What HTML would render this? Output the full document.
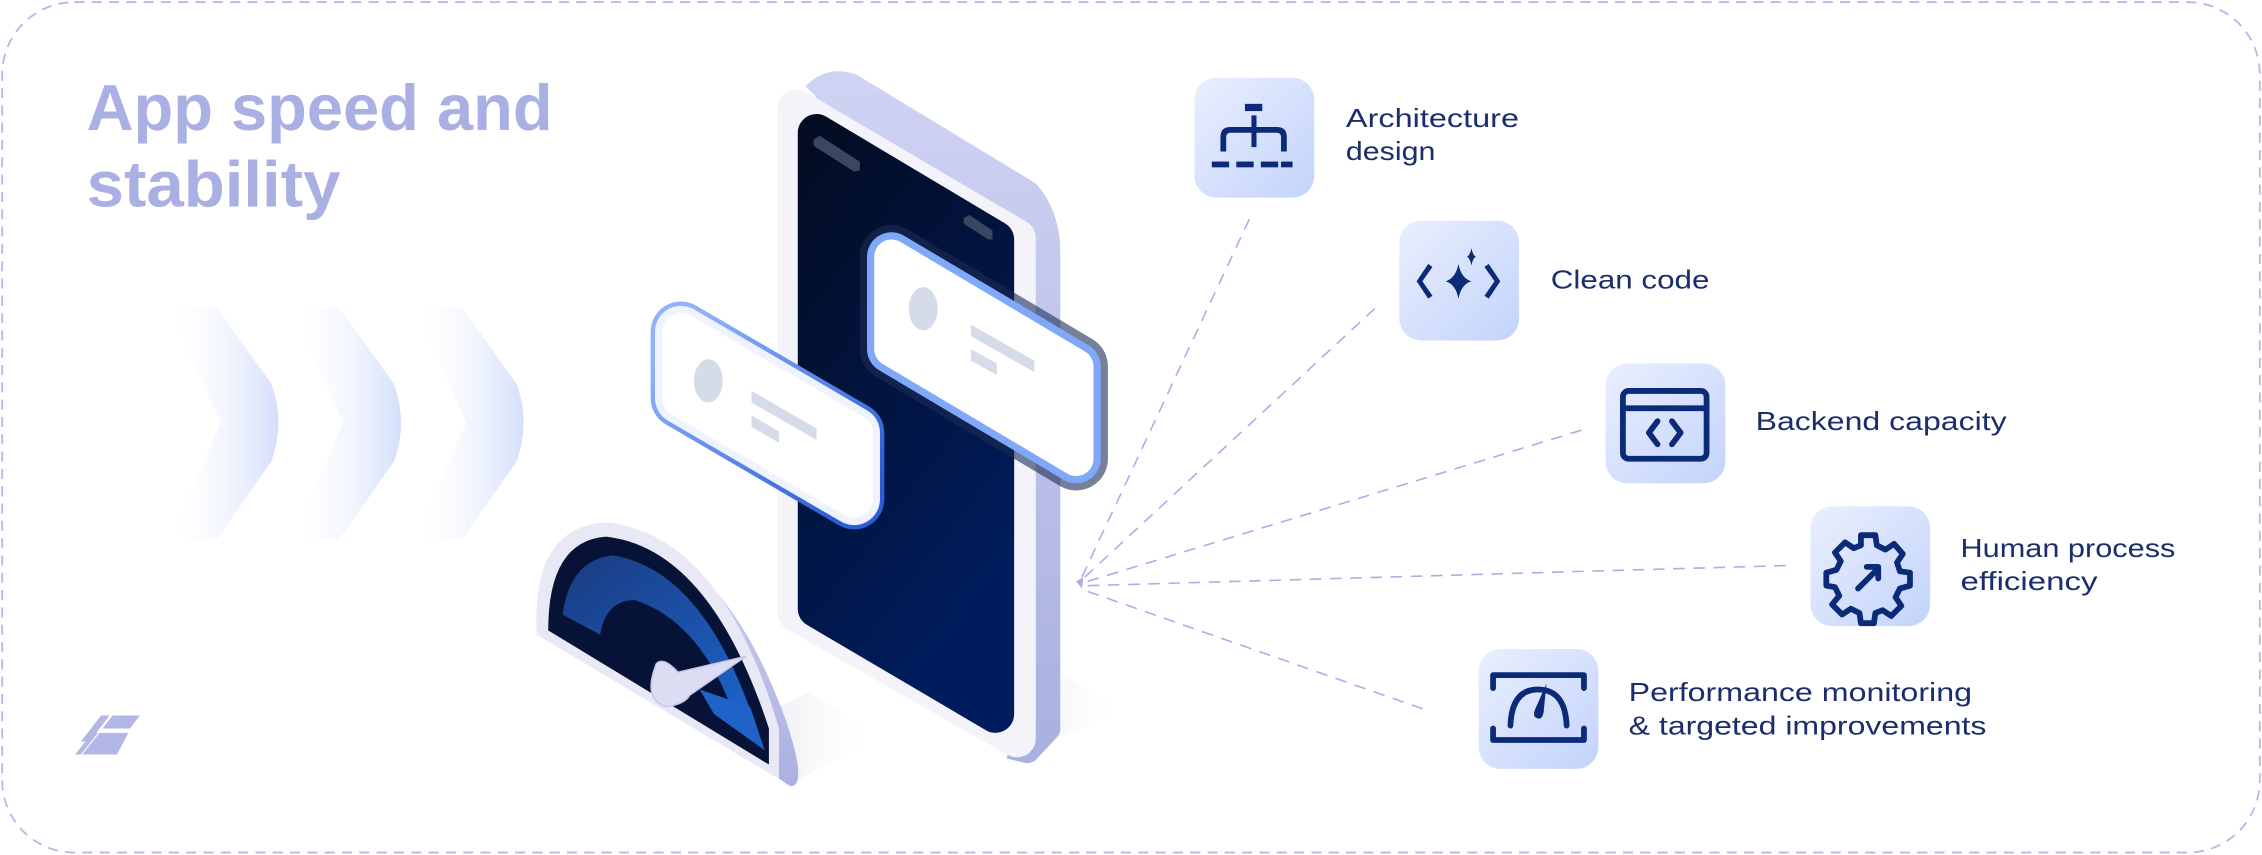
<!DOCTYPE html>
<html><head><meta charset="utf-8"><style>
html,body{margin:0;padding:0;background:#fff;}
svg{display:block;}
text{font-family:"Liberation Sans",sans-serif;}
</style></head><body>
<svg width="2262" height="855" viewBox="0 0 1568 592.7" xmlns="http://www.w3.org/2000/svg">
<defs>
<linearGradient id="chev" x1="0" y1="0" x2="1" y2="0"><stop offset="0" stop-color="#ffffff" stop-opacity="0"/><stop offset="0.35" stop-color="#f3f6fe" stop-opacity="0.5"/><stop offset="1" stop-color="#d3dffb"/></linearGradient>
<linearGradient id="box" x1="0" y1="0" x2="1" y2="1"><stop offset="0" stop-color="#e9effd"/><stop offset="1" stop-color="#c3d3fb"/></linearGradient>
<linearGradient id="scr" x1="0" y1="0" x2="0.4" y2="1"><stop offset="0" stop-color="#030c22"/><stop offset="1" stop-color="#001c5c"/></linearGradient>
<linearGradient id="side" x1="0" y1="0" x2="0" y2="1"><stop offset="0" stop-color="#cfd2f2"/><stop offset="1" stop-color="#aab0e0"/></linearGradient>
<linearGradient id="shadow" x1="0" y1="0" x2="1" y2="0"><stop offset="0" stop-color="#dfe1ea"/><stop offset="1" stop-color="#ffffff" stop-opacity="0"/></linearGradient>
<linearGradient id="gblue" x1="0" y1="0" x2="1" y2="1"><stop offset="0" stop-color="#1a3b80"/><stop offset="1" stop-color="#1d62c9"/></linearGradient>
<linearGradient id="cardb" x1="0" y1="0" x2="1" y2="1"><stop offset="0" stop-color="#8fb3fb"/><stop offset="1" stop-color="#2c5fd6"/></linearGradient>
</defs>
<rect x="1.5" y="1.5" width="1565" height="589.5" rx="50" fill="none" stroke="#b2b6e6" stroke-width="1.2" stroke-dasharray="7 5"/>
<text x="60" y="90" font-size="45" font-weight="bold" fill="#aab0e3" textLength="323" lengthAdjust="spacingAndGlyphs">App speed and</text>
<text x="60" y="143" font-size="45" font-weight="bold" fill="#aab0e3" textLength="176" lengthAdjust="spacingAndGlyphs">stability</text>
<g fill="url(#chev)">
<path d="M117,213 L150,213 L188,266 Q198,293 188,320 L150,374 L117,374 L153,293 Z"/>
<path d="M202,213 L235,213 L273,266 Q283,293 273,320 L235,374 L202,374 L238,293 Z"/>
<path d="M287,213 L320,213 L358,266 Q368,293 358,320 L320,374 L287,374 L323,293 Z"/>
</g>
<g fill="#b3b7e6">
<polygon points="70,496 76,496 62,514 56,514"/>
<polygon points="78,496 97,496 90,505 71,505"/>
<polygon points="69,508 89,508 81,523 57,523"/>
<polygon points="64,508 68,508 56,523 52,523"/>
</g>
<polygon points="712,520 780,492 740,470 700,480" fill="url(#shadow)" opacity="0.8"/>
<polygon points="545,545 610,510 560,480 520,500" fill="url(#shadow)" opacity="0.8"/>
<path d="M565,66 Q575,55 590,60 L712,134 Q726,150 726,175 L726,505 L712,520 L700,517" fill="url(#side)" stroke="url(#side)" stroke-width="18" stroke-linejoin="round"/>
<path d="M552,75 L705,165 L705,512 L552,425 Z" fill="#f3f3f9" stroke="#f3f3f9" stroke-width="26" stroke-linejoin="round"/>
<path d="M566,92 L690,166 L690,495 L566,422 Z" fill="url(#scr)" stroke="url(#scr)" stroke-width="26" stroke-linejoin="round"/>
<polygon points="564,97 568,94 596,112 596,118 592,119 564,101" fill="#3b4762"/>
<polygon points="668,151 672,149 688,160 688,166 685,166 668,155" fill="#3b4762"/>
<path d="M618,178 L746,254 L746,318 L618,242 Z" fill="none" stroke="#1c2b55" stroke-width="44" stroke-linejoin="round" opacity="0.6"/>
<path d="M618,178 L746,254 L746,318 L618,242 Z" fill="none" stroke="#7fa8f8" stroke-width="34" stroke-linejoin="round"/>
<path d="M618,178 L746,254 L746,318 L618,242 Z" fill="#fff" stroke="#fff" stroke-width="24" stroke-linejoin="round"/>
<ellipse cx="640" cy="214" rx="10" ry="15" fill="#d5dbe8"/>
<polygon points="673,225 717,250 717,258 673,233" fill="#d5dbe8"/>
<polygon points="673,242 691,252 691,260 673,250" fill="#d5dbe8"/>
<path d="M472,230 L592,300 L592,346 L472,276 Z" fill="none" stroke="url(#cardb)" stroke-width="42" stroke-linejoin="round"/>
<path d="M472,230 L592,300 L592,346 L472,276 Z" fill="none" stroke="#eef3ff" stroke-width="36" stroke-linejoin="round"/>
<path d="M472,230 L592,300 L592,346 L472,276 Z" fill="#fff" stroke="#fff" stroke-width="26" stroke-linejoin="round"/>
<ellipse cx="491" cy="264" rx="10" ry="15" fill="#d5dbe8"/>
<polygon points="521,271 566,297 566,305 521,279" fill="#d5dbe8"/>
<polygon points="521,288 540,299 540,307 521,296" fill="#d5dbe8"/>
<path d="M375,430 Q372,370 420,368 Q500,375 545,500 Q560,545 548,545 Z" fill="url(#side)"/>
<path d="M372,440 Q368,365 420,362 Q500,370 540,505 L540,540 Z" fill="#e9e9f6"/>
<path d="M380,437 Q380,375 420,372 Q492,380 533,505 L533,530 Z" fill="#061337"/>
<path d="M390,426 Q395,388 425,385 Q485,395 520,492 L506,488 Q483,430 440,416 Q420,416 416,440 Z" fill="url(#gblue)"/>
<path d="M485,478 L520,490 L530,520 L495,495 Z" fill="#1f63c8"/>
<path d="M455,460 Q445,485 462,490 Q475,488 478,482 L517,455 L470,466 Q460,455 455,460 Z" fill="#dcdcf2" stroke="#c4c6ec" stroke-width="1"/>
<g stroke="#a9aee6" stroke-width="1.1" stroke-dasharray="8 6" fill="none">
<line x1="750" y1="400" x2="866" y2="152"/>
<line x1="752" y1="400" x2="955" y2="212"/>
<line x1="754" y1="403" x2="1097" y2="298"/>
<line x1="754" y1="406" x2="1240" y2="392"/>
<line x1="754" y1="410" x2="988" y2="492"/>
</g>
<polygon points="746,403 751,400 750,408" fill="#a9aee6"/>
<g fill="url(#box)">
<rect x="828" y="54" width="83" height="83" rx="15"/>
<rect x="970" y="153" width="83" height="83" rx="15"/>
<rect x="1113" y="252" width="83" height="83" rx="15"/>
<rect x="1255" y="351" width="83" height="83" rx="15"/>
<rect x="1025" y="450" width="83" height="83" rx="15"/>
</g>
<g fill="#0b2a78" stroke="none">
<rect x="863" y="72" width="12" height="5"/>
<rect x="867.5" y="80" width="3.5" height="22"/>
<path d="M846,105 L846,95 Q846,88 853,88 L885,88 Q892,88 892,95 L892,105 L888,105 L888,95 Q888,92 885,92 L853,92 Q850,92 850,95 L850,105 Z"/>
<rect x="840" y="112" width="12" height="4"/><rect x="857" y="112" width="12" height="4"/><rect x="874" y="112" width="12" height="4"/><rect x="888" y="112" width="8" height="4"/>
<path d="M993,185 L986,195 L993,205 L990,207 L982,195 L990,183 Z"/>
<path d="M1029,185 L1036,195 L1029,205 L1032,207 L1040,195 L1032,183 Z"/>
<path d="M1011,183 Q1013,193 1020,195 Q1013,197 1011,207 Q1009,197 1002,195 Q1009,193 1011,183 Z"/>
<path d="M1020,172 Q1021,177 1023,178 Q1021,179 1020,184 Q1019,179 1017,178 Q1019,177 1020,172 Z"/>
</g>
<g fill="none" stroke="#0b2a78" stroke-width="4" stroke-linejoin="round" stroke-linecap="round">
<rect x="1125" y="271" width="58" height="47" rx="4"/>
<line x1="1125" y1="283" x2="1183" y2="283"/>
<path d="M1149,292 L1143,300 L1149,308"/>
<path d="M1159,292 L1165,300 L1159,308"/>
<path d="M1290,371 L1300,371 L1301,378 L1307,381 L1313,377 L1319,384 L1315,390 L1317,396 L1324,397 L1324,406 L1317,408 L1314,414 L1318,420 L1311,427 L1305,423 L1300,425 L1299,432 L1290,432 L1289,425 L1283,422 L1277,426 L1270,419 L1275,413 L1272,407 L1266,406 L1266,397 L1273,395 L1276,389 L1272,383 L1279,376 L1285,380 L1290,378 Z"/>
<path d="M1288,408 L1302,394 M1294,393 L1302,393 L1302,401"/>
<path d="M1035,477 L1035,468 L1098,468 L1098,477"/>
<path d="M1035,505 L1035,513 L1098,513 L1098,505"/>
<path d="M1047,503 Q1048,478 1066,478 Q1085,478 1086,503"/>
</g>
<path d="M1066,498 Q1062,497 1064,492 L1072,474 L1070,494 Q1069,499 1066,498 Z" fill="#0b2a78"/>
<g fill="#1c2d6b" font-size="18">
<text x="933" y="88" textLength="120" lengthAdjust="spacingAndGlyphs">Architecture</text>
<text x="933" y="111" textLength="62" lengthAdjust="spacingAndGlyphs">design</text>
<text x="1075" y="200" textLength="110" lengthAdjust="spacingAndGlyphs">Clean code</text>
<text x="1217" y="298" textLength="174" lengthAdjust="spacingAndGlyphs">Backend capacity</text>
<text x="1359" y="386" textLength="149" lengthAdjust="spacingAndGlyphs">Human process</text>
<text x="1359" y="409" textLength="95" lengthAdjust="spacingAndGlyphs">efficiency</text>
<text x="1129" y="486" textLength="238" lengthAdjust="spacingAndGlyphs">Performance monitoring</text>
<text x="1129" y="509" textLength="248" lengthAdjust="spacingAndGlyphs">&amp; targeted improvements</text>
</g>
</svg>
</body></html>
